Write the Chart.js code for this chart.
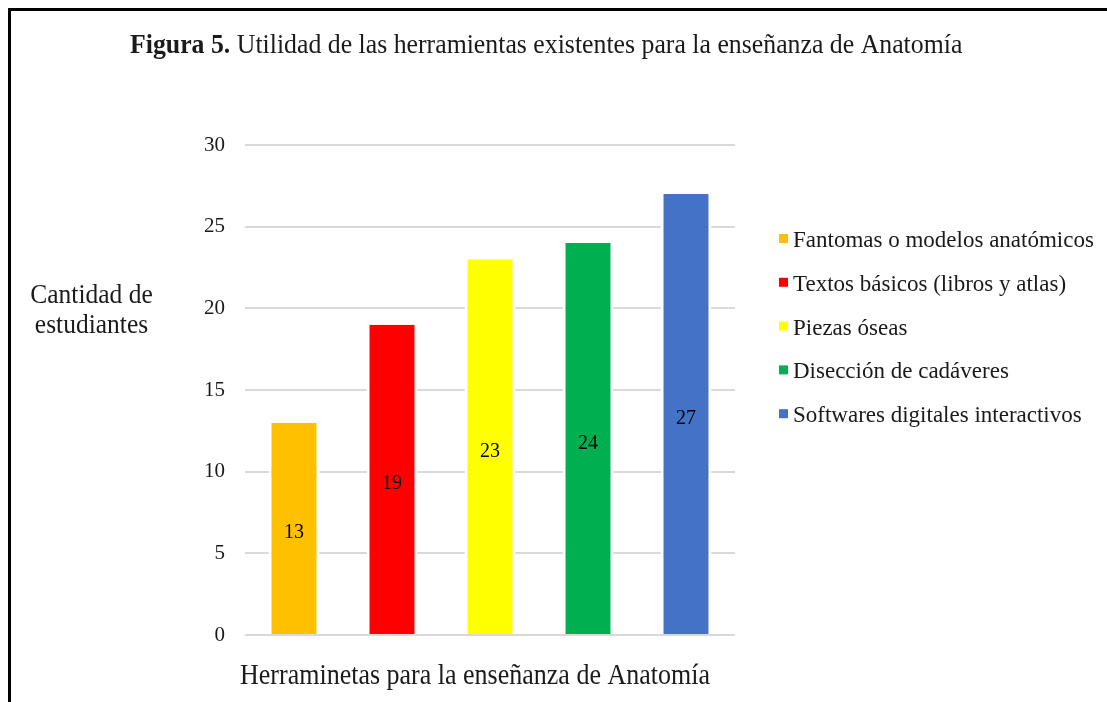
<!DOCTYPE html>
<html>
<head>
<meta charset="utf-8">
<script src="https://cdn.jsdelivr.net/npm/chart.js@4/dist/chart.umd.min.js"></script>
<style>
  html, body { margin: 0; padding: 0; background: #fff; overflow: hidden; }
  #wrap { position: relative; width: 1107px; height: 702px; }
  #frame { position: absolute; left: 8px; top: 8px; width: 1120px; height: 720px; border: 3px solid #000; box-sizing: border-box; }
  canvas { position: absolute; left: 0; top: 0; }
</style>
</head>
<body>
<div id="wrap">
  <div id="frame"></div>
  <canvas id="barChart" width="1107" height="702"></canvas>
</div>
<script>
const categories = ["Herraminetas para la enseñanza de Anatomía"];
const seriesNames = [
  "Fantomas o modelos anatómicos",
  "Textos básicos (libros y atlas)",
  "Piezas óseas",
  "Disección de cadáveres",
  "Softwares digitales interactivos"
];
const seriesValues = [13, 19, 23, 24, 27];
const seriesColors = ["#FFC000", "#FF0000", "#FFFF00", "#00B050", "#4472C4"];
const yTicks = [0, 5, 10, 15, 20, 25, 30];

const SERIF = "'Liberation Serif', 'Times New Roman', serif";
const TXT = "#1a1a1a";

// text a bit taller than wide, like the original picture
const tallText = (ctx, text, x, y, sy) => {
  ctx.save();
  ctx.translate(x, y);
  ctx.scale(1, sy);
  ctx.fillText(text, 0, 0);
  ctx.restore();
};

// draws title, axis titles, legend and value labels
const textPlugin = {
  id: "textPlugin",
  afterDraw(chart) {
    const ctx = chart.ctx;
    const area = chart.chartArea;
    ctx.save();
    ctx.fillStyle = TXT;
    ctx.textBaseline = "alphabetic";

    // title, bold part + normal part
    ctx.textAlign = "left";
    ctx.font = "bold 25.8px " + SERIF;
    const boldPart = "Figura 5.";
    tallText(ctx, boldPart, 130, 53, 1.1);
    const bw = ctx.measureText(boldPart + " ").width;
    ctx.font = "25.8px " + SERIF;
    tallText(ctx, "Utilidad de las herramientas existentes para la enseñanza de Anatomía", 130 + bw, 53, 1.1);

    // y title (horizontal)
    ctx.font = "25.5px " + SERIF;
    ctx.textAlign = "center";
    tallText(ctx, "Cantidad de", 91.5, 303, 1.1);
    tallText(ctx, "estudiantes", 91.5, 333, 1.1);

    // x title
    ctx.font = "26px " + SERIF;
    tallText(ctx, categories[0], (area.left + area.right) / 2 - 15, 684, 1.12);

    // legend
    ctx.textAlign = "left";
    ctx.font = "23px " + SERIF;
    chart.data.datasets.forEach((ds, i) => {
      const y = 239 + i * 43.8;
      ctx.fillStyle = ds.backgroundColor;
      ctx.fillRect(779, y - 5, 9, 9);
      ctx.fillStyle = TXT;
      tallText(ctx, ds.label, 793, y + 8, 1.0);
    });

    // value labels in the middle of each bar
    ctx.textAlign = "center";
    ctx.fillStyle = "#000";
    ctx.font = "20px " + SERIF;
    chart.data.datasets.forEach((ds, i) => {
      const bar = chart.getDatasetMeta(i).data[0];
      tallText(ctx, String(ds.data[0]), bar.x, (bar.y + bar.base) / 2 + 10, 1.1);
    });
    ctx.restore();
  }
};

const ctx = document.getElementById("barChart").getContext("2d");
new Chart(ctx, {
  type: "bar",
  data: {
    labels: categories,
    datasets: seriesNames.map((name, i) => ({
      label: name,
      data: [seriesValues[i]],
      backgroundColor: seriesColors[i],
      borderColor: "#FFFFFF",
      borderWidth: { left: 3, right: 3, top: 0, bottom: 0 },
      categoryPercentage: 1.0,
      barPercentage: 0.52
    }))
  },
  options: {
    responsive: false,
    animation: false,
    layout: { padding: { left: 0, top: 145, right: 372, bottom: 67 } },
    plugins: {
      legend: { display: false },
      title: { display: false },
      tooltip: { enabled: false }
    },
    scales: {
      x: {
        afterFit: (scale) => { scale.height = 0; },
        ticks: { display: false },
        grid: { display: false },
        border: { display: false }
      },
      y: {
        min: 0,
        max: 30,
        afterFit: (scale) => { scale.width = 245; },
        afterBuildTicks: (scale) => { scale.ticks = yTicks.map((v) => ({ value: v })); },
        ticks: {
          padding: 20,
          color: TXT,
          font: { family: SERIF, size: 21 }
        },
        grid: { color: "#D9D9D9", lineWidth: 2, drawTicks: false },
        border: { display: false }
      }
    }
  },
  plugins: [textPlugin]
});
</script>
</body>
</html>
